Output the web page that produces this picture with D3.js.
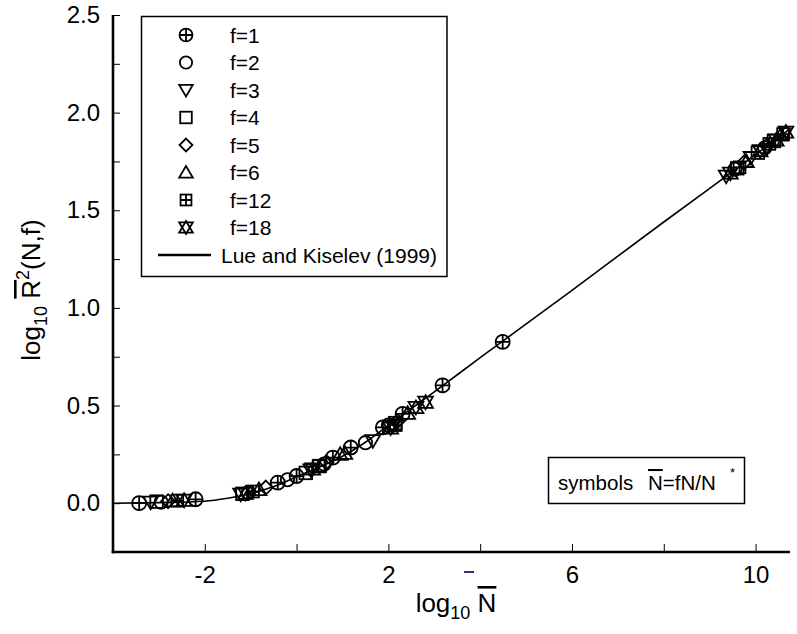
<!DOCTYPE html>
<html>
<head>
<meta charset="utf-8">
<script src="https://cdn.jsdelivr.net/npm/d3@7"></script>
<style>
  body { margin: 0; background: #fff; }
  svg { display: block; font-family: "Liberation Sans", Arial, sans-serif; }
</style>
</head>
<body>
<svg id="chart" width="797" height="634"></svg>
<script>
// Scaled mean-square size against scaled chain length, several functionalities f
const f1  = [[-3.43, 0.0], [-2.20, 0.02], [-0.41, 0.105], [0.0, 0.139], [0.79, 0.233], [1.18, 0.285], [1.88, 0.388], [2.31, 0.457], [3.18, 0.603], [4.49, 0.826]];
const f2  = [[-2.95, 0.005], [-1.05, 0.055], [-0.2, 0.12], [0.6, 0.2], [1.5, 0.31], [2.0, 0.4], [9.55, 1.71], [10.2, 1.82]];
const f3  = [[-3.18, 0.005], [-1.22, 0.046], [0.31, 0.17], [1.66, 0.32], [2.1, 0.395], [9.36, 1.675], [9.9, 1.77]];
const f4  = [[-3.05, 0.008], [-1.18, 0.048], [0.2, 0.155], [0.5, 0.19], [2.15, 0.41], [9.6, 1.715], [10.05, 1.795], [10.4, 1.855]];
const f5  = [[-2.8, 0.01], [-0.67, 0.08], [0.65, 0.21], [2.2, 0.42], [9.75, 1.745], [10.25, 1.83]];
const f6  = [[-2.7, 0.012], [-0.82, 0.07], [0.95, 0.25], [1.05, 0.255], [2.42, 0.46], [9.8, 1.75], [10.55, 1.885]];
const f12 = [[-2.6, 0.013], [-0.95, 0.06], [0.48, 0.19], [2.16, 0.4], [9.65, 1.72], [10.3, 1.84], [10.6, 1.89]];
const f18 = [[-2.45, 0.015], [-1.11, 0.05], [0.35, 0.175], [2.05, 0.385], [2.6, 0.49], [2.81, 0.517], [9.45, 1.69], [10.1, 1.805], [10.45, 1.86], [10.66, 1.9]];

// Lue and Kiselev (1999) crossover curve, sampled
const curveX = [-4.0, -3.0, -2.0, -1.5, -1.0, -0.5, 0.0, 0.5, 1.0, 1.5, 2.0, 2.5, 3.0, 4.0, 6.0, 8.0, 10.0, 10.77];
const curveY = [0.0, 0.003, 0.01, 0.025, 0.048, 0.085, 0.135, 0.185, 0.24, 0.312, 0.398, 0.484, 0.57, 0.745, 1.09, 1.44, 1.785, 1.92];

const seriesLabels = ["f=1", "f=2", "f=3", "f=4", "f=5", "f=6", "f=12", "f=18"];
const seriesSymbols = ["oplus", "circle", "tridown", "square", "diamond", "triup", "boxplus", "star"];
const seriesData = [f1, f2, f3, f4, f5, f6, f12, f18];
const lineLabel = "Lue and Kiselev (1999)";

const xTicks = [-2, 0, 2, 4, 6, 8, 10];
const xLabelled = [-2, 2, 6, 10];
const yTicks = [0, 0.25, 0.5, 0.75, 1.0, 1.25, 1.5, 1.75, 2.0, 2.25, 2.5];
const yLabelled = [0, 0.5, 1.0, 1.5, 2.0, 2.5];

const svg = d3.select("#chart");
const x = d3.scaleLinear().domain([-4, 10.75]).range([113, 790]);
const y = d3.scaleLinear().domain([-0.25, 2.5]).range([552, 15]);

// marker shapes
function drawSymbol(g, type, s, sw) {
  const r = 7.4 * s;
  const apply = (el) => el.attr("fill", "none").attr("stroke", "#000").attr("stroke-width", sw);
  const tri = (dir) => `M${-r},${-dir * 0.75 * r}L${r},${-dir * 0.75 * r}L0,${dir * 0.95 * r}Z`;
  switch (type) {
    case "oplus":
      apply(g.append("circle").attr("r", r * 0.95));
      apply(g.append("path").attr("d", `M${-r * 0.95},0H${r * 0.95}M0,${-r * 0.95}V${r * 0.95}`));
      break;
    case "circle":
      apply(g.append("circle").attr("r", r * 0.9));
      break;
    case "tridown":
      apply(g.append("path").attr("d", tri(1)));
      break;
    case "triup":
      apply(g.append("path").attr("d", tri(-1)));
      break;
    case "square":
      apply(g.append("rect").attr("x", -0.85 * r).attr("y", -0.85 * r).attr("width", 1.7 * r).attr("height", 1.7 * r));
      break;
    case "diamond":
      apply(g.append("path").attr("d", `M0,${-r * 0.95}L${r * 0.95},0L0,${r * 0.95}L${-r * 0.95},0Z`));
      break;
    case "boxplus": {
      const h = 0.8 * r;
      apply(g.append("rect").attr("x", -h).attr("y", -h).attr("width", 2 * h).attr("height", 2 * h));
      apply(g.append("path").attr("d", `M${-h},0H${h}M0,${-h}V${h}`));
      break;
    }
    case "star":
      apply(g.append("path").attr("d", tri(1)));
      apply(g.append("path").attr("d", tri(-1)));
      break;
  }
}

// axes
const yAxis = d3.axisLeft(y).tickValues(yTicks).tickSizeInner(-7).tickSizeOuter(0).tickPadding(13)
  .tickFormat(d => yLabelled.includes(d) ? d3.format(".1f")(d) : "");
const gy = svg.append("g").attr("transform", `translate(${x(-4)},0)`).call(yAxis);
const xAxis = d3.axisBottom(x).tickValues(xTicks).tickSizeInner(-8).tickSizeOuter(0).tickPadding(14)
  .tickFormat(d => xLabelled.includes(d) ? String(d) : "");
const gx = svg.append("g").attr("transform", `translate(0,${y(-0.25)})`).call(xAxis);

[gx, gy].forEach(g => {
  g.select(".domain").attr("stroke", "#000").attr("stroke-width", 2.6);
  g.selectAll(".tick line").attr("stroke", "#000").attr("stroke-width", 1);
  g.selectAll(".tick text").attr("fill", "#000").attr("font-size", 24)
    .attr("font-family", "Liberation Sans, Arial, sans-serif");
});
// axis lines meet at the corner
gy.select(".domain").attr("d", `M0,${y(-0.25) + 1.3}V${y(2.5)}`);
gx.select(".domain").attr("d", `M${x(-4) - 1.3},0H${x(10.75)}`);

// axis titles
const yt = svg.append("text").attr("transform", "translate(40,290) rotate(-90)")
  .attr("text-anchor", "middle").attr("font-size", 26).attr("fill", "#000");
yt.append("tspan").text("log");
yt.append("tspan").attr("font-size", 18).attr("dy", 7).text("10");
yt.append("tspan").attr("dy", -7).text("\u00a0");
yt.append("tspan").style("text-decoration", "overline").text("R");
yt.append("tspan").attr("font-size", 18).attr("dy", -11).text("2");
yt.append("tspan").attr("dy", 11).text("(N,f)");

const xt = svg.append("text").attr("x", 456).attr("y", 612)
  .attr("text-anchor", "middle").attr("font-size", 26).attr("fill", "#000");
xt.append("tspan").text("log");
xt.append("tspan").attr("font-size", 18).attr("dy", 7).text("10");
xt.append("tspan").attr("dy", -7).text("\u00a0");
xt.append("tspan").style("text-decoration", "overline").text("N");
svg.append("line").attr("x1", 464).attr("x2", 474).attr("y1", 572).attr("y2", 572)
  .attr("stroke", "#1a1a80").attr("stroke-width", 1.8);

// fitted curve
const curvePts = curveX.map((v, i) => [v, curveY[i]]);
svg.append("path").datum(curvePts)
  .attr("fill", "none").attr("stroke", "#000").attr("stroke-width", 1.6)
  .attr("d", d3.line().x(d => x(d[0])).y(d => y(d[1])).curve(d3.curveMonotoneX));

// data markers
seriesData.forEach((data, i) => {
  svg.append("g").selectAll("g").data(data).join("g")
    .attr("transform", d => `translate(${x(d[0])},${y(d[1])})`)
    .each(function () { drawSymbol(d3.select(this), seriesSymbols[i], 1, 1.8); });
});

// legend
const lg = svg.append("g");
const lgBox = lg.append("rect").attr("x", 141.5).attr("y", 16.5).attr("height", 260)
  .attr("fill", "#fff").attr("stroke", "#000").attr("stroke-width", 1.5);
const rowY = i => 35 + i * 27.5;
seriesLabels.forEach((lab, i) => {
  const g = lg.append("g").attr("transform", `translate(186,${rowY(i)})`);
  drawSymbol(g, seriesSymbols[i], 0.92, 1.8);
  lg.append("text").attr("x", 230).attr("y", rowY(i) + 7.5).attr("font-size", 21).attr("fill", "#000").text(lab);
});
lg.append("line").attr("x1", 158).attr("x2", 211).attr("y1", rowY(8)).attr("y2", rowY(8))
  .attr("stroke", "#000").attr("stroke-width", 2.6);
const lt = lg.append("text").attr("x", 221).attr("y", rowY(8) + 7.5).attr("font-size", 21).attr("fill", "#000").text(lineLabel);
lgBox.attr("width", 221 + lt.node().getComputedTextLength() + 10 - 141.5);

// note box
const nb = svg.append("g");
nb.append("rect").attr("x", 548.5).attr("y", 457.5).attr("width", 196).attr("height", 46)
  .attr("fill", "#fff").attr("stroke", "#000").attr("stroke-width", 1.5);
nb.append("text").attr("x", 558).attr("y", 490).attr("font-size", 20.5).attr("fill", "#000").text("symbols");
const nt = nb.append("text").attr("x", 648).attr("y", 490).attr("font-size", 20.5).attr("fill", "#000");
nt.append("tspan").style("text-decoration", "overline").text("N");
nt.append("tspan").text("=fN/N");
nb.append("text").attr("x", 730).attr("y", 477).attr("font-size", 13).attr("fill", "#000").text("*");
</script>
</body>
</html>
